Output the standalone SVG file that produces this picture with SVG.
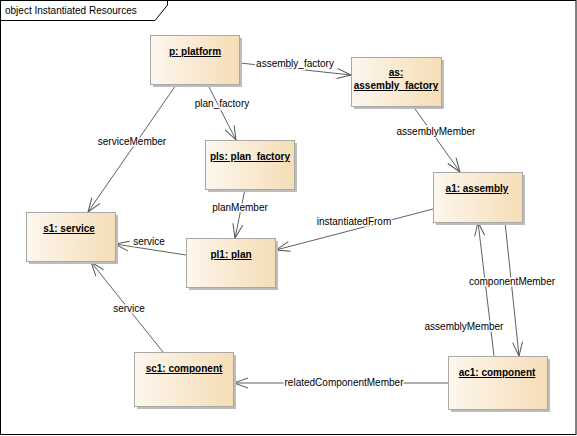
<svg xmlns="http://www.w3.org/2000/svg" width="577" height="436" viewBox="0 0 577 436">
<defs>
<linearGradient id="g" x1="0" y1="0" x2="1" y2="0">
<stop offset="0" stop-color="#fdf7ee"/>
<stop offset="1" stop-color="#f5ddb6"/>
</linearGradient>
<marker id="a" markerUnits="userSpaceOnUse" markerWidth="20" markerHeight="14" viewBox="-16 -7 18 14" refX="0" refY="0" orient="auto">
<path d="M-14,-5 L0,0 L-14,5" fill="none" stroke="#555" stroke-width="1"/>
</marker>
</defs>
<style>
.sh{fill:#bdbdbd}
.bx{fill:url(#g);stroke:#a8a8a8;stroke-width:1}
.nm{font-family:"Liberation Sans",Arial,sans-serif;font-size:10px;font-weight:bold;text-anchor:middle;text-decoration:underline;fill:#000}
.ln{fill:none;stroke:#606060;stroke-width:1}
.lb{font-family:"Liberation Sans",Arial,sans-serif;font-size:10px;text-anchor:middle;fill:#000;stroke:#fff;stroke-width:3;paint-order:stroke;stroke-linejoin:round}
.fr{fill:none;stroke:#000;stroke-width:1}
.ti{font-family:"Liberation Sans",Arial,sans-serif;font-size:10px;fill:#000}
</style>
<rect x="0.5" y="0.5" width="575.5" height="434" fill="#fff" class="fr"/>
<path class="fr" d="M0.5,20.5 L155,20.5 L167.5,5 L167.5,0.5"/>
<text class="ti" x="5" y="14">object Instantiated Resources</text>

<g id="connectors">
<line class="ln" x1="240" y1="63" x2="351" y2="75" marker-end="url(#a)"/>
<text class="lb" x="295" y="67">assembly_factory</text>
<line class="ln" x1="208" y1="85" x2="236" y2="140" marker-end="url(#a)"/>
<text class="lb" x="222" y="107">plan_factory</text>
<line class="ln" x1="176" y1="85" x2="88" y2="212" marker-end="url(#a)"/>
<text class="lb" x="132" y="145">serviceMember</text>
<line class="ln" x1="413" y1="106" x2="460" y2="172" marker-end="url(#a)"/>
<text class="lb" x="436" y="135">assemblyMember</text>
<line class="ln" x1="245" y1="189" x2="235" y2="238" marker-end="url(#a)"/>
<text class="lb" x="240" y="211">planMember</text>
<line class="ln" x1="186" y1="255" x2="115" y2="244" marker-end="url(#a)"/>
<text class="lb" x="149" y="245">service</text>
<line class="ln" x1="433" y1="209" x2="276" y2="250" marker-end="url(#a)"/>
<text class="lb" x="354" y="225">instantiatedFrom</text>
<line class="ln" x1="494" y1="356" x2="478" y2="222" marker-end="url(#a)"/>
<text class="lb" x="464" y="330">assemblyMember</text>
<line class="ln" x1="505" y1="222" x2="519" y2="356" marker-end="url(#a)"/>
<text class="lb" x="512" y="285">componentMember</text>
<line class="ln" x1="448" y1="383" x2="234" y2="383" marker-end="url(#a)"/>
<text class="lb" x="344" y="386">relatedComponentMember</text>
<line class="ln" x1="163" y1="352" x2="91" y2="262" marker-end="url(#a)"/>
<text class="lb" x="129" y="312">service</text>
</g>

<g id="p">
<rect class="sh" x="153" y="38" width="89" height="49"/>
<rect class="bx" x="150.5" y="35.5" width="89" height="49"/>
<text class="nm" x="195" y="55">p: platform</text>
</g>
<g id="as">
<rect class="sh" x="354" y="60" width="90" height="49"/>
<rect class="bx" x="351.5" y="57.5" width="90" height="49"/>
<text class="nm" x="396" y="76">as:</text>
<text class="nm" x="396" y="89">assembly_factory</text>
</g>
<g id="pls">
<rect class="sh" x="208" y="143" width="89" height="49"/>
<rect class="bx" x="205.5" y="140.5" width="89" height="49"/>
<text class="nm" x="250" y="160">pls: plan_factory</text>
</g>
<g id="s1">
<rect class="sh" x="29" y="215" width="89" height="49"/>
<rect class="bx" x="26.5" y="212.5" width="89" height="49"/>
<text class="nm" x="69" y="232">s1: service</text>
</g>
<g id="pl1">
<rect class="sh" x="189" y="241" width="89" height="49"/>
<rect class="bx" x="186.5" y="238.5" width="89" height="49"/>
<text class="nm" x="231" y="258">pl1: plan</text>
</g>
<g id="a1">
<rect class="sh" x="436" y="175" width="89" height="50"/>
<rect class="bx" x="433.5" y="172.5" width="89" height="50"/>
<text class="nm" x="477" y="192">a1: assembly</text>
</g>
<g id="ac1">
<rect class="sh" x="451" y="359" width="99" height="53"/>
<rect class="bx" x="448.5" y="356.5" width="99" height="53"/>
<text class="nm" x="497" y="376">ac1: component</text>
</g>
<g id="sc1">
<rect class="sh" x="137" y="355" width="99" height="54"/>
<rect class="bx" x="134.5" y="352.5" width="99" height="54"/>
<text class="nm" x="184" y="372">sc1: component</text>
</g>
</svg>
